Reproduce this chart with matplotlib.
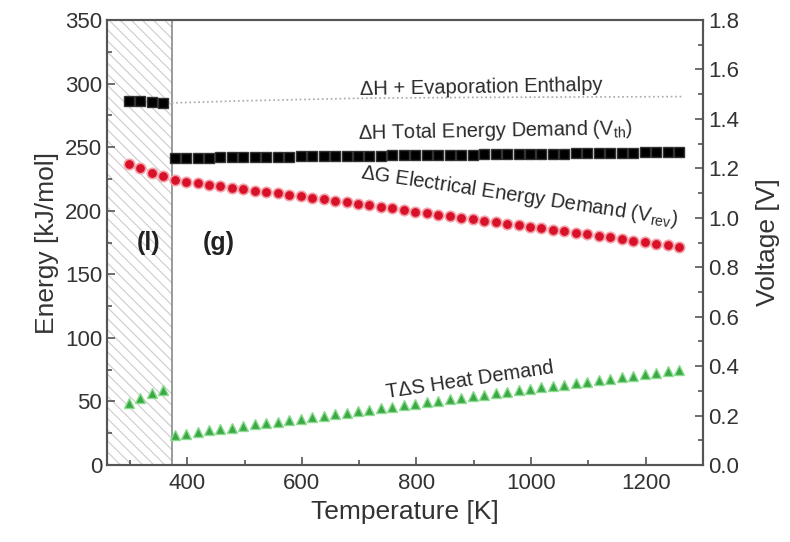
import matplotlib
matplotlib.use('Agg')
import matplotlib.pyplot as plt
from matplotlib.ticker import MultipleLocator

plt.rcParams['font.family'] = ['Liberation Sans', 'DejaVu Sans']
plt.rcParams['mathtext.fontset'] = 'custom'
plt.rcParams['mathtext.rm'] = 'Liberation Sans'
plt.rcParams['mathtext.it'] = 'Liberation Sans'
plt.rcParams['hatch.linewidth'] = 0.8

# liquid water region
T_liq = [298, 318, 338, 358]
H_liq = [286.5, 286.0, 285.5, 284.5]
G_liq = [237.0, 233.5, 230.0, 227.0]
TS_liq = [49.0, 53.0, 56.5, 59.0]

# steam region
T_gas = [378, 398, 418, 438, 458, 478, 498, 518, 538, 558,
         578, 598, 618, 638, 658, 678, 698, 718, 738, 758,
         778, 798, 818, 838, 858, 878, 898, 918, 938, 958,
         978, 998, 1018, 1038, 1058, 1078, 1098, 1118, 1138, 1158,
         1178, 1198, 1218, 1238, 1258]
H_gas = [241.5, 241.6, 241.7, 241.8, 241.9, 242.0, 242.2, 242.3, 242.4, 242.5,
         242.6, 242.7, 242.8, 242.9, 243.0, 243.1, 243.2, 243.3, 243.4, 243.5,
         243.6, 243.7, 243.8, 243.9, 244.0, 244.1, 244.2, 244.3, 244.4, 244.5,
         244.6, 244.7, 244.8, 244.9, 245.0, 245.2, 245.3, 245.4, 245.6, 245.7,
         245.8, 246.0, 246.1, 246.3, 246.5]
G_gas = [224.0, 222.8, 221.7, 220.5, 219.4, 218.2, 217.1, 215.9, 214.8, 213.6,
         212.5, 211.3, 210.1, 209.0, 207.8, 206.6, 205.4, 204.2, 203.0, 201.8,
         200.6, 199.4, 198.2, 197.0, 195.8, 194.6, 193.4, 192.2, 191.0, 189.8,
         188.6, 187.4, 186.2, 185.0, 183.8, 182.6, 181.4, 180.2, 179.0, 177.8,
         176.6, 175.4, 174.2, 173.0, 171.8]
TS_gas = [23.6, 24.8, 26.0, 27.2, 28.4, 29.5, 30.7, 31.9, 33.0, 34.2,
          35.4, 36.5, 37.7, 38.9, 40.0, 41.2, 42.4, 43.5, 44.7, 45.9,
          47.0, 48.2, 49.4, 50.5, 51.7, 52.9, 54.0, 55.2, 56.3, 57.5,
          58.7, 59.8, 61.0, 62.1, 63.3, 64.5, 65.6, 66.8, 67.9, 69.1,
          70.2, 71.4, 72.5, 73.7, 74.8]

# dH + evaporation enthalpy (thin dotted line)
T_evap = [373, 500, 700, 900, 1100, 1265]
H_evap = [284.8, 286.5, 288.5, 289.2, 289.5, 289.8]

T_boil = 373

fig = plt.figure(figsize=(7.9, 5.42), dpi=100)
ax = fig.add_axes([0.1354, 0.142, 0.7546, 0.821])

ax.axvspan(260, T_boil, facecolor='none', edgecolor='#cccccc', hatch='\\\\\\', lw=0)
ax.axvline(T_boil, color='#8a8a8a', lw=1.2)

ax.plot(T_evap, H_evap, ls=':', color='#a8a8a8', lw=1.2)

sq = dict(ls='none', marker='s', ms=6.5, color='black', mec='#333333')
ax.plot(T_liq, H_liq, **sq)
ax.plot(T_gas, H_gas, **sq)

ci = dict(ls='none', marker='o', ms=7.5, color='#d81028', mec='#f4a0a8', mew=1.2)
ax.plot(T_liq, G_liq, **ci)
ax.plot(T_gas, G_gas, **ci)

tr = dict(ls='none', marker='^', ms=7.5, color='#3aa845', mec='#8cdc90', mew=1.0)
ax.plot(T_liq, TS_liq, **tr)
ax.plot(T_gas, TS_gas, **tr)

ax.set_xlim(260, 1300)
ax.set_ylim(0, 350)
ax.xaxis.set_major_locator(MultipleLocator(200))
ax.xaxis.set_minor_locator(MultipleLocator(100))
ax.yaxis.set_major_locator(MultipleLocator(50))
ax.yaxis.set_minor_locator(MultipleLocator(25))
ax.set_xticks([400, 600, 800, 1000, 1200])

ax2 = ax.twinx()
ax2.set_ylim(0, 1.8)
ax2.yaxis.set_major_locator(MultipleLocator(0.2))
ax2.yaxis.set_minor_locator(MultipleLocator(0.1))
ax2.set_yticklabels(['%.1f' % v for v in ax2.get_yticks()])

for a in (ax, ax2):
    for s in a.spines.values():
        s.set_color('#555555')
        s.set_linewidth(1.5)
    a.tick_params(which='both', direction='in', colors='#555555', labelcolor='#333333',
                  labelsize=16, width=1.2)
    a.tick_params(which='major', length=6)
    a.tick_params(which='minor', length=3.5)
ax.tick_params(axis='y', right=False)
ax.tick_params(axis='x', top=False, pad=6)

ax.set_xlabel('Temperature [K]', fontsize=19, color='#333333', labelpad=4)
ax.set_ylabel('Energy [kJ/mol]', fontsize=19, color='#333333', labelpad=4)
ax2.set_ylabel('Voltage [V]', fontsize=19, color='#333333', labelpad=12)

tc = '#2a2a2a'
ax.text(912, 297, 'ΔH + Evaporation Enthalpy', fontsize=14.5, color=tc,
        ha='center', va='center', rotation=1)
ax.text(938, 263, r'ΔH Total Energy Demand (V$_{\rm th}$)', fontsize=14.5, color=tc,
        ha='center', va='center', rotation=1)
ax.text(980, 211, r'ΔG Electrical Energy Demand (V$_{\rm rev}$)', fontsize=14.5, color=tc,
        ha='center', va='center', rotation=-8.5, rotation_mode='anchor')
ax.text(893, 67, 'TΔS Heat Demand', fontsize=14.5, color=tc,
        ha='center', va='center', rotation=8.5, rotation_mode='anchor')
ax.text(332, 175, '(l)', fontsize=18, fontweight='bold', color='#222222',
        ha='center', va='center')
ax.text(455, 175, '(g)', fontsize=18, fontweight='bold', color='#222222',
        ha='center', va='center')

fig.savefig('out.png', dpi=100)
